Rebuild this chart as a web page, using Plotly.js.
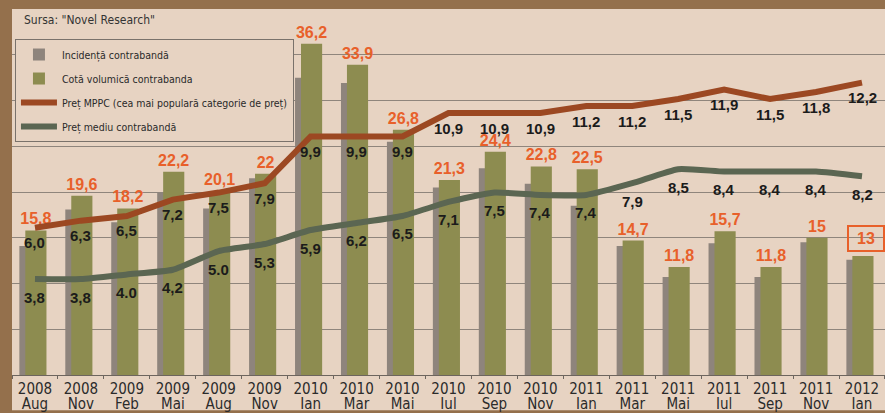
<!DOCTYPE html>
<html>
<head>
<meta charset="utf-8">
<script src="https://cdn.plot.ly/plotly-3.0.1.min.js"></script>
<style>
  html, body { margin: 0; padding: 0; background: #94704c; }
  #chart { width: 885px; height: 413px; }
</style>
</head>
<body>
<div id="chart"></div>
<script>
// ---- Data ----
const categories = ['2008 Aug','2008 Nov','2009 Feb','2009 Mai','2009 Aug','2009 Nov','2010 Ian','2010 Mar','2010 Mai','2010 Iul','2010 Sep','2010 Nov','2011 Ian','2011 Mar','2011 Mai','2011 Iul','2011 Sep','2011 Nov','2012 Ian'];
const tickYears = ['2008','2008','2009','2009','2009','2009','2010','2010','2010','2010','2010','2010','2011','2011','2011','2011','2011','2011','2012'];
const tickMonths = ['Aug','Nov','Feb','Mai','Aug','Nov','Ian','Mar','Mai','Iul','Sep','Nov','Ian','Mar','Mai','Iul','Sep','Nov','Ian'];

const incidenta = [14.1, 18.1, 16.7, 20.0, 18.2, 21.5, 32.5, 31.9, 25.5, 20.5, 22.6, 20.9, 18.5, 14.1, 10.7, 14.4, 10.7, 14.5, 12.6];
const cota = [15.8, 19.6, 18.2, 22.2, 20.1, 22, 36.2, 33.9, 26.8, 21.3, 24.4, 22.8, 22.5, 14.7, 11.8, 15.7, 11.8, 15, 13];
const cotaLabels = ['15,8','19,6','18,2','22,2','20,1','22','36,2','33,9','26,8','21,3','24,4','22,8','22,5','14,7','11,8','15,7','11,8','15','13'];

const pretMPPC = [6.0, 6.3, 6.5, 7.2, 7.5, 7.9, 9.9, 9.9, 9.9, 10.9, 10.9, 10.9, 11.2, 11.2, 11.5, 11.9, 11.5, 11.8, 12.2];
const pretMPPCLabels = ['6,0','6,3','6,5','7,2','7,5','7,9','9,9','9,9','9,9','10,9','10,9','10,9','11,2','11,2','11,5','11,9','11,5','11,8','12,2'];
const pretMediu = [3.8, 3.8, 4.0, 4.2, 5.0, 5.3, 5.9, 6.2, 6.5, 7.1, 7.5, 7.4, 7.4, 7.9, 8.5, 8.4, 8.4, 8.4, 8.2];
const pretMediuLabels = ['3,8','3,8','4.0','4,2','5.0','5,3','5,9','6,2','6,5','7,1','7,5','7,4','7,4','7,9','8,5','8,4','8,4','8,4','8,2'];

const seriesNames = ['Incidență contrabandă','Cotă volumică contrabanda','Preț MPPC (cea mai populară categorie de preț)','Preț mediu contrabandă'];

// ---- Styles ----
const BEIGE = '#e7d3c2';
const GRAY_BAR = '#8e847c';
const GREEN_BAR = '#8d8c50';
const MPPC_COL = '#9c4822';
const MEDIU_COL = '#5b6652';
const ORANGE = '#e8602a';
const NARROW = '"Liberation Sans Narrow", "Arial Narrow", "DejaVu Sans Condensed", sans-serif';
const BOLD = '"Liberation Sans", Arial, "DejaVu Sans", sans-serif';

const lastIdx = cota.length - 1;
const greenText = cotaLabels.map((t, i) => i === lastIdx ? '' : t);

const traces = [
  {
    type: 'bar', name: seriesNames[0], x: categories, y: incidenta,
    xaxis: 'x', yaxis: 'y', marker: { color: GRAY_BAR, line: { width: 0 } },
    offset: -0.34, width: 0.42, legendgroup: 'g1', hoverinfo: 'skip'
  },
  {
    type: 'bar', name: seriesNames[1], x: categories, y: cota,
    xaxis: 'x', yaxis: 'y', marker: { color: GREEN_BAR, line: { width: 0 } },
    offset: -0.21, width: 0.46, legendgroup: 'g2', hoverinfo: 'skip',
    text: greenText, textposition: 'outside', cliponaxis: false, constraintext: 'none',
    textfont: { family: BOLD, size: 16, color: ORANGE, weight: 700 }
  },
  {
    type: 'scatter', mode: 'lines', name: seriesNames[2], x: categories, y: pretMPPC,
    xaxis: 'x2', yaxis: 'y2', line: { color: MPPC_COL, width: 6 }, legendgroup: 'g3', hoverinfo: 'skip'
  },
  {
    type: 'scatter', mode: 'lines', name: seriesNames[3], x: categories, y: pretMediu,
    xaxis: 'x2', yaxis: 'y2', line: { color: MEDIU_COL, width: 6, shape: 'spline', smoothing: 0.5 },
    legendgroup: 'g4', hoverinfo: 'skip'
  }
];

const annotations = [];
pretMPPC.forEach((v, i) => {
  annotations.push({
    xref: 'x2', yref: 'y2', x: categories[i], y: v, yshift: -15, showarrow: false,
    text: pretMPPCLabels[i], font: { family: BOLD, size: 15, color: '#1b1b1b', weight: 700 }
  });
});
pretMediu.forEach((v, i) => {
  annotations.push({
    xref: 'x2', yref: 'y2', x: categories[i], y: v, yshift: -18, showarrow: false,
    text: pretMediuLabels[i], font: { family: BOLD, size: 15, color: '#1b1b1b', weight: 700 }
  });
});
// boxed label on the last green bar
annotations.push({
  xref: 'x', yref: 'y', x: categories[lastIdx], y: cota[lastIdx], yanchor: 'bottom', yshift: 4, xshift: 4,
  showarrow: false, text: cotaLabels[lastIdx], bordercolor: ORANGE, borderwidth: 2, borderpad: 3,
  width: 28, font: { family: BOLD, size: 16, color: ORANGE, weight: 700 }
});
// source note
annotations.push({
  xref: 'paper', yref: 'paper', x: 0.0115, y: 0.970, xanchor: 'left', yanchor: 'middle',
  showarrow: false, text: 'Sursa: "Novel Research"', font: { family: NARROW, size: 12, color: '#333333' }
});

const layout = {
  width: 885, height: 413,
  margin: { l: 12, r: 0, t: 9, b: 38, pad: 0 },
  paper_bgcolor: '#94704c',
  plot_bgcolor: BEIGE,
  barmode: 'overlay',
  showlegend: true,
  legend: {
    x: 0.0034, y: 0.918, xanchor: 'left', yanchor: 'top',
    bgcolor: BEIGE, bordercolor: '#7a726b', borderwidth: 1,
    font: { family: NARROW, size: 10.5, color: '#2a2a2a' },
    traceorder: 'grouped', tracegroupgap: 5, itemwidth: 36
  },
  xaxis: {
    type: 'category', categoryorder: 'array', categoryarray: categories,
    tickmode: 'array', tickvals: categories, ticktext: tickYears,
    tickson: 'boundaries', ticks: 'outside', ticklen: 3, tickcolor: '#6d655e',
    showline: true, linecolor: '#6d655e', linewidth: 1, showgrid: false, zeroline: false,
    tickfont: { family: NARROW, size: 15, color: '#2b2b2b' }, ticklabelstandoff: 0
  },
  xaxis2: {
    type: 'category', categoryorder: 'array', categoryarray: categories,
    overlaying: 'x', matches: 'x', side: 'bottom', anchor: 'y',
    tickmode: 'array', tickvals: categories, ticktext: tickMonths,
    ticks: '', showline: false, showgrid: false, zeroline: false,
    tickfont: { family: NARROW, size: 15, color: '#2b2b2b' }, ticklabelstandoff: 18
  },
  yaxis: {
    range: [0, 40], dtick: 5, showticklabels: false, ticks: '',
    showgrid: true, gridcolor: '#8f857c', gridwidth: 1, zeroline: false, showline: false
  },
  yaxis2: {
    range: [-0.3, 15.35], overlaying: 'y', side: 'right', showticklabels: false,
    ticks: '', showgrid: false, zeroline: false, showline: false
  },
  shapes: [
    {
      type: 'rect', xref: 'paper', yref: 'paper', x0: 0, x1: 1.01, y0: -0.096, y1: 1,
      fillcolor: BEIGE, line: { width: 0 }, layer: 'below'
    }
  ],
  annotations: annotations
};

Plotly.newPlot('chart', traces, layout, { staticPlot: true, displayModeBar: false });
</script>
</body>
</html>
